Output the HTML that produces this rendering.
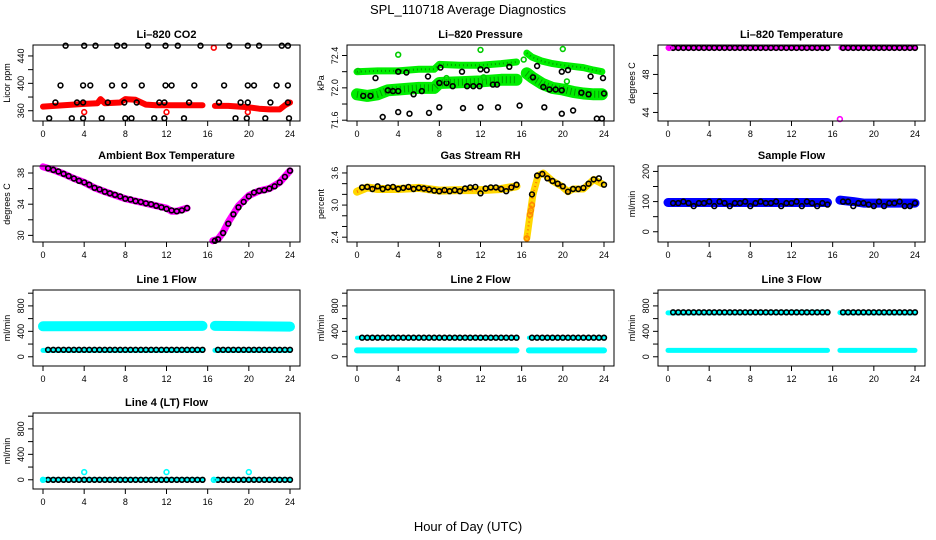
<!DOCTYPE html>
<html><head><meta charset="utf-8"><style>
html,body{margin:0;padding:0;background:#fff;}
svg{display:block;font-family:"Liberation Sans",Arial,sans-serif;}
</style></head><body>
<svg id="chart" width="936" height="540" viewBox="0 0 936 540">
<text x="468" y="14" text-anchor="middle" font-size="13">SPL_110718  Average Diagnostics</text>
<text x="468" y="531" text-anchor="middle" font-size="13">Hour of Day (UTC)</text>
</svg>
<script>
// ---- shared hours ----
const xTicks = [0,4,8,12,16,20,24];
const HRS = [0.5,1,1.5,2,2.5,3,3.5,4,4.5,5,5.5,6,6.5,7,7.5,8,8.5,9,9.5,10,10.5,11,11.5,12,12.5,13,13.5,14,14.5,15,15.5,17,17.5,18,18.5,19,19.5,20,20.5,21,21.5,22,22.5,23,23.5,24];

// ---- CO2 ----
const co2BandH1 = [0,2,4,5.3,5.6,6,7.5,8,9,10,11,15.5];
const co2BandV1 = [366,368,370,371,377,371,372,377,376,369,368,368];
const co2BandH2 = [16.7,18,20,21,22,23,23.5,24];
const co2BandV2 = [367,367,365,363,362,362,368,372];
const co2BlackH = [2.2,4.0,5.1,7.2,7.9,10.2,11.9,13.1,15.3,18.1,19.9,21.0,23.2,23.8, 1.7,3.9,4.6,6.7,7.9,9.6,11.9,12.5,14.7,17.6,19.9,20.5,22.7,23.8, 1.2,3.3,3.9,6.3,7.9,9.1,11.3,11.8,14.2,17.1,19.2,19.9,22.1,23.8, 0.6,2.8,3.9,5.7,8.0,8.6,10.8,11.8,13.7,18.7,19.8,21.6,23.9];
const co2BlackV = [455,455,455,455,455,455,455,455,455,455,455,455,455,455, 397,397,397,397,397,397,397,397,397,397,397,397,397,397, 372,372,372,372,372,372,372,372,372,372,372,372,372,372, 349,349,349,349,349,349,349,349,349,349,349,349,349];
const co2RedH = [4.0,12.0,19.9,16.6];
const co2RedV = [358,358,358,452];

// ---- Pressure ----
const prUpH1 = [0,2,4,6,7.5,8,10,12,14,15.5];
const prUpV1 = [72.2,72.21,72.21,72.23,72.23,72.29,72.28,72.28,72.3,72.32];
const prUpH2 = [16.5,17,18,19,20,22,23,23.8];
const prUpV2 = [72.43,72.38,72.33,72.3,72.28,72.25,72.22,72.2];
const prLoH1 = [0,1,2,3,4,6,7.5,8,10,12,14,15.5];
const prLoV1 = [71.92,71.9,71.92,71.97,71.98,72.0,72.0,72.06,72.07,72.08,72.1,72.1];
const prLoH2 = [16.5,17,18,19,20,21,22,23,23.8];
const prLoV2 = [72.18,72.13,72.05,72.0,71.98,71.95,71.93,71.92,71.92];
const prBlackH = [1.8,4,4.8,6.9,8.1,10.2,12,12.6,14.8,17.5,19.9,20.5,22.7,23.9, 0.6,1.3,3,3.5,4,5.5,6.3,8,8.7,9.3,10.7,11.3,11.9,13.2,13.6,17.1,18.1,18.7,19.3,19.9,21.8,22.5,24, 2.5,4,5.1,7,8,10.3,12,13.7,15.8,18.2,19.9,21,23.3,23.8];
const prBlackV = [72.12,72.2,72.19,72.14,72.25,72.2,72.23,72.22,72.26,72.27,72.2,72.22,72.14,72.12, 71.9,71.9,71.97,71.96,71.96,71.92,71.96,72.06,72.06,72.02,72.02,72.02,72.02,72.04,72.04,72.13,72.01,71.98,71.98,71.97,71.94,71.92,71.93, 71.64,71.7,71.68,71.69,71.76,71.75,71.76,71.76,71.78,71.76,71.68,71.72,71.62,71.62];
const prGreenH = [4,12,20,12.3,16.2,8.7,20.4,0.1];
const prGreenV = [72.41,72.47,72.48,72.13,72.35,72.12,72.08,72.21];

// ---- Li-820 temperature ----
const ltBandH1 = [0,15.5];
const ltBandV1 = [50.8,50.8];
const ltBandH2 = [16.8,24];
const ltBandV2 = [50.8,50.8];
const ltBlackV = [50.8,50.8,50.8,50.8,50.8,50.8,50.8,50.8,50.8,50.8,50.8,50.8,50.8,50.8,50.8,50.8,50.8,50.8,50.8,50.8,50.8,50.8,50.8,50.8,50.8,50.8,50.8,50.8,50.8,50.8,50.8,50.8,50.8,50.8,50.8,50.8,50.8,50.8,50.8,50.8,50.8,50.8,50.8,50.8,50.8,50.8];
const ltMagH = [16.7,0.1];
const ltMagV = [43.3,50.8];

// ---- Ambient ----
const ambH1 = [0,1,2,3,4,5,6,8,10,12,12.5,13,14];
const ambV1 = [38.8,38.4,37.9,37.3,36.8,36.1,35.6,34.7,34.1,33.5,33.1,33.1,33.5];
const ambH2 = [16.5,17,17.5,18,19,20,21,22,23,24];
const ambV2 = [29.3,29.5,30.4,31.7,33.8,35.1,35.7,36.0,36.8,38.3];
const ambCircH = [0.5,1,1.5,2,2.5,3,3.5,4,4.5,5,5.5,6,6.5,7,7.5,8,8.5,9,9.5,10,10.5,11,11.5,12,12.5,13,13.5,14,16.7,17,17.5,18,18.5,19,19.5,20,20.5,21,21.5,22,22.5,23,23.5,24];
const ambCircV = [38.6,38.4,38.2,37.9,37.6,37.3,37.0,36.8,36.5,36.1,35.9,35.6,35.4,35.2,35.0,34.7,34.6,34.4,34.3,34.1,34.0,33.8,33.6,33.4,33.2,33.1,33.2,33.5,29.3,29.5,30.3,31.5,32.7,33.6,34.3,35.0,35.5,35.7,35.8,36.0,36.3,36.8,37.5,38.3];

// ---- RH ----
const rhH1 = [0,1,2,4,6,8,10,12,14,15.5];
const rhV1 = [3.25,3.33,3.3,3.3,3.32,3.27,3.28,3.28,3.3,3.35];
const rhH2 = [16.5,16.8,17.1,17.6,18.1,19,19.9,20.5,21,22,23,23.8];
const rhV2 = [2.38,2.8,3.2,3.55,3.6,3.45,3.35,3.25,3.3,3.3,3.48,3.4];
const rhCircV = [3.33,3.34,3.3,3.35,3.3,3.33,3.34,3.3,3.32,3.34,3.3,3.32,3.31,3.29,3.27,3.26,3.28,3.26,3.28,3.26,3.31,3.33,3.34,3.22,3.31,3.33,3.33,3.3,3.26,3.33,3.38, 3.2,3.55,3.58,3.5,3.45,3.4,3.35,3.25,3.3,3.3,3.32,3.4,3.48,3.5,3.38];
const rhOrH = [16.5,16.8,16.9,17.0];
const rhOrV = [2.38,2.82,2.9,3.0];

// ---- Sample flow ----
const sfH1 = [0,15.5];
const sfV1 = [97,97];
const sfH2 = [16.7,18,19,24];
const sfV2 = [105,100,95,95];
const sfCircV = [95,95,100,95,85,95,95,100,85,100,95,85,95,95,100,85,95,100,95,95,100,85,95,95,100,85,100,95,85,95,90, 100,100,85,95,95,90,85,100,85,95,95,100,85,85,95];

// ---- Line flows ----
const l1CyanH = [0,15.5], l1CyanV = [480,485];
const l1CyanH2 = [16.7,24], l1CyanV2 = [485,475];
const l1LowH = [0,15.5], l1LowV = [100,100];
const l1LowH2 = [16.7,24], l1LowV2 = [100,100];
const l1CircV = [110,110,110,110,110,110,110,110,110,110,110,110,110,110,110,110,110,110,110,110,110,110,110,110,110,110,110,110,110,110,110,110,110,110,110,110,110,110,110,110,110,110,110,110,110,110];
const l2CircV = [300,300,300,300,300,300,300,300,300,300,300,300,300,300,300,300,300,300,300,300,300,300,300,300,300,300,300,300,300,300,300,300,300,300,300,300,300,300,300,300,300,300,300,300,300,300];
const l3TopH = [0,15.5], l3TopV = [690,700];
const l3TopH2 = [16.7,24], l3TopV2 = [695,690];
const l3CircV = [700,700,700,700,700,700,700,700,700,700,700,700,700,700,700,700,700,700,700,700,700,700,700,700,700,700,700,700,700,700,700,700,700,700,700,700,700,700,700,700,700,700,700,700,700,700];
const l4CircV = [0,0,0,0,0,0,0,0,0,0,0,0,0,0,0,0,0,0,0,0,0,0,0,0,0,0,0,0,0,0,0,0,0,0,0,0,0,0,0,0,0,0,0,0,0,0];
const l4BlipH = [4,12,20,0,16.6], l4BlipV = [120,120,120,0,0];

const NS = "http://www.w3.org/2000/svg";
const svg = document.getElementById('chart');
function mk(tag, attrs, parent){ const e=document.createElementNS(NS,tag); for(const k in attrs) e.setAttribute(k,attrs[k]); (parent||svg).appendChild(e); return e; }

const COLS=[33,347,658], ROWS=[45,166,290,413], BW=267, BH=76;

function panel(cfg){
  const L=COLS[cfg.c], T=ROWS[cfg.r];
  const g=mk('g',{});
  
  
  const xs=h=>L+10+h*(BW-20)/24;
  const ys=v=>T+BH-(v-cfg.ymin)/(cfg.ymax-cfg.ymin)*BH;
  const t=mk('text',{x:L+BW/2,y:T-7,'text-anchor':'middle','font-size':11,'font-weight':'bold'},g);
  t.textContent=cfg.title;
  
  
  (cfg.bands||[]).forEach(b=>{
    const pts=b.h.map((h,i)=>xs(h).toFixed(1)+','+ys(b.v[i]).toFixed(1)).join(' ');
    const p=mk('polyline',{points:pts,fill:'none',stroke:b.color,'stroke-width':b.w,'stroke-linecap':'round','stroke-linejoin':'round'},g);
    
    
    if(b.dash){ mk('polyline',{points:pts,fill:'none',stroke:b.dash,'stroke-width':Math.max(1,b.w-5),'stroke-dasharray':'1 3','opacity':0.6},g); }
  });
  (cfg.pts||[]).forEach(s=>{
    s.h.forEach((h,i)=>{
      const c=mk('circle',{cx:xs(h).toFixed(1),cy:ys(s.v[i]).toFixed(1),r:2.4,fill:'none',stroke:s.color,'stroke-width':1.6},g);
      
      
    });
  });
  const box=mk('rect',{x:L,y:T,width:BW,height:BH,fill:'none',stroke:'#000','stroke-width':1},g);
  
  
  xTicks.forEach(v=>{
    mk('line',{x1:xs(v),x2:xs(v),y1:T+BH,y2:T+BH+5,stroke:'#000'},g);
    const tx=mk('text',{x:xs(v),y:T+BH+16,'text-anchor':'middle','font-size':9},g);
    tx.textContent=v;
    
    
  });
  cfg.yt.forEach(v=>{ mk('line',{x1:L,x2:L-5,y1:ys(v),y2:ys(v),stroke:'#000'},g); });
  cfg.yl.forEach(v=>{
    const y=ys(v), x=L-9;
    const tx=mk('text',{x:x,y:y,'text-anchor':'middle','font-size':9,transform:'rotate(-90 '+x+' '+y+')'},g);
    tx.textContent=v.toFixed(cfg.dec||0);
    
    
  });
  const yx=L-23, yy=T+BH/2;
  const yl=mk('text',{x:yx,y:yy,'text-anchor':'middle','font-size':9,transform:'rotate(-90 '+yx+' '+yy+')'},g);
  yl.textContent=cfg.ylab;
  
  
}
const HRS1=HRS;
const flowT=[0,200,400,600,800,1000], flowL=[0,400,800];
panel({name:'co2-panel',title:'Li\u2013820 CO2',c:0,r:0,ymin:345,ymax:456,yt:[360,380,400,420,440],yl:[360,400,440],ylab:'Licor ppm',
  bands:[{h:co2BandH1,v:co2BandV1,color:'#ff0000',w:6},{h:co2BandH2,v:co2BandV2,color:'#ff0000',w:6}],
  pts:[{h:co2BlackH,v:co2BlackV,color:'#000'},{h:co2RedH,v:co2RedV,color:'#ff0000'}]});
panel({name:'pressure-panel',title:'Li\u2013820 Pressure',c:1,r:0,ymin:71.59,ymax:72.53,yt:[71.6,71.8,72.0,72.2,72.4],yl:[71.6,72.0,72.4],dec:1,ylab:'kPa',
  bands:[{h:prUpH1,v:prUpV1,color:'#00ee00',w:7,dash:'#006600'},{h:prUpH2,v:prUpV2,color:'#00ee00',w:7,dash:'#006600'},{h:prLoH1,v:prLoV1,color:'#00ee00',w:12,dash:'#006600'},{h:prLoH2,v:prLoV2,color:'#00ee00',w:12,dash:'#006600'}],
  pts:[{h:prBlackH,v:prBlackV,color:'#000'},{h:prGreenH,v:prGreenV,color:'#00cc00'}]});
panel({name:'li820-temperature-panel',title:'Li\u2013820 Temperature',c:2,r:0,ymin:43.1,ymax:51.1,yt:[44,46,48,50],yl:[44,48],ylab:'degrees C',
  bands:[{h:ltBandH1,v:ltBandV1,color:'#ff00ff',w:5},{h:ltBandH2,v:ltBandV2,color:'#ff00ff',w:5}],
  pts:[{h:HRS1,v:ltBlackV,color:'#000'},{h:ltMagH,v:ltMagV,color:'#ff00ff'}]});
panel({name:'ambient-temperature-panel',title:'Ambient Box Temperature',c:0,r:1,ymin:29.15,ymax:38.9,yt:[30,32,34,36,38],yl:[30,34,38],ylab:'degrees C',
  bands:[{h:ambH1,v:ambV1,color:'#ff00ff',w:7},{h:ambH2,v:ambV2,color:'#ff00ff',w:7}],
  pts:[{h:ambCircH,v:ambCircV,color:'#000'}]});
panel({name:'rh-panel',title:'Gas Stream RH',c:1,r:1,ymin:2.31,ymax:3.73,yt:[2.4,2.6,2.8,3.0,3.2,3.4,3.6],yl:[2.4,3.0,3.6],dec:1,ylab:'percent',
  bands:[{h:rhH1,v:rhV1,color:'#ffd700',w:8,dash:'#ff3300'},{h:rhH2,v:rhV2,color:'#ffd700',w:7,dash:'#ff3300'}],
  pts:[{h:HRS1,v:rhCircV,color:'#000'},{h:rhOrH,v:rhOrV,color:'#ff8800'}]});
panel({name:'sample-flow-panel',title:'Sample Flow',c:2,r:1,ymin:-34,ymax:218,yt:[0,50,100,150,200],yl:[0,100,200],ylab:'ml/min',
  bands:[{h:sfH1,v:sfV1,color:'#0000ff',w:9},{h:sfH2,v:sfV2,color:'#0000ff',w:9}],
  pts:[{h:HRS1,v:sfCircV,color:'#000'}]});
panel({name:'line1-flow-panel',title:'Line 1 Flow',c:0,r:2,ymin:-145,ymax:1050,yt:flowT,yl:flowL,ylab:'ml/min',
  bands:[{h:l1CyanH,v:l1CyanV,color:'#00ffff',w:10},{h:l1CyanH2,v:l1CyanV2,color:'#00ffff',w:10},{h:l1LowH,v:l1LowV,color:'#00ffff',w:5},{h:l1LowH2,v:l1LowV2,color:'#00ffff',w:5}],
  pts:[{h:HRS1,v:l1CircV,color:'#000'}]});
panel({name:'line2-flow-panel',title:'Line 2 Flow',c:1,r:2,ymin:-145,ymax:1050,yt:flowT,yl:flowL,ylab:'ml/min',
  bands:[{h:l1LowH,v:l1LowV,color:'#00ffff',w:6},{h:l1LowH2,v:l1LowV2,color:'#00ffff',w:6},{h:[0,15.5],v:[300,300],color:'#00ffff',w:4},{h:[16.7,24],v:[300,300],color:'#00ffff',w:4}],
  pts:[{h:HRS1,v:l2CircV,color:'#000'}]});
panel({name:'line3-flow-panel',title:'Line 3 Flow',c:2,r:2,ymin:-145,ymax:1050,yt:flowT,yl:flowL,ylab:'ml/min',
  bands:[{h:l1LowH,v:l1LowV,color:'#00ffff',w:5},{h:l1LowH2,v:l1LowV2,color:'#00ffff',w:5},{h:l3TopH,v:l3TopV,color:'#00ffff',w:5},{h:l3TopH2,v:l3TopV2,color:'#00ffff',w:5}],
  pts:[{h:HRS1,v:l3CircV,color:'#000'}]});
panel({name:'line4-flow-panel',title:'Line 4 (LT) Flow',c:0,r:3,ymin:-145,ymax:1050,yt:flowT,yl:flowL,ylab:'ml/min',
  bands:[{h:[0,15.5],v:[0,0],color:'#00ffff',w:5},{h:[16.7,24],v:[0,0],color:'#00ffff',w:5}],
  pts:[{h:HRS1,v:l4CircV,color:'#000'},{h:l4BlipH,v:l4BlipV,color:'#00ffff'}]});
</script>
</body></html>
